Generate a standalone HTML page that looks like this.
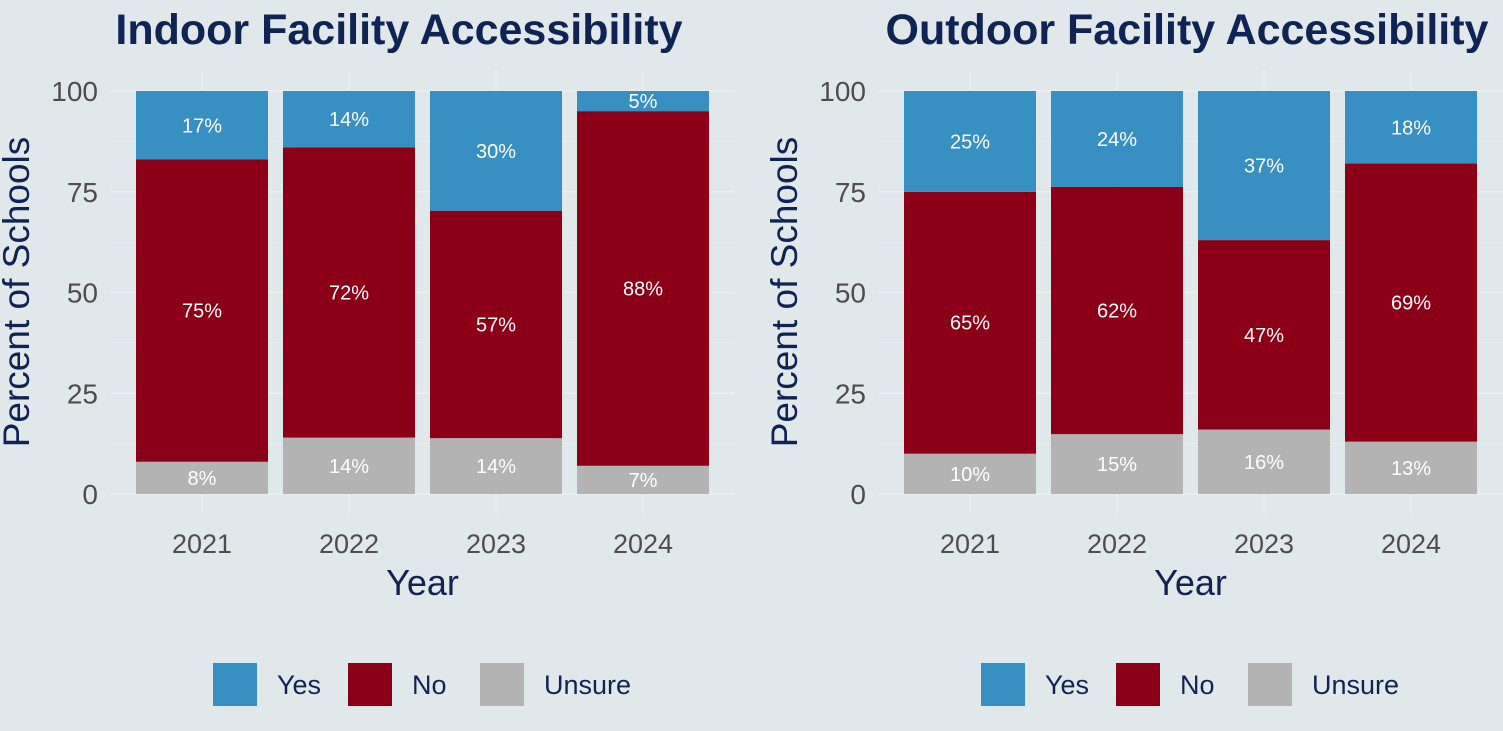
<!DOCTYPE html>
<html><head><meta charset="utf-8"><style>
html,body{margin:0;padding:0;background:#e1e8eb;}
svg{display:block;font-family:"Liberation Sans",Arial,sans-serif;}
</style></head><body>
<svg id="chart" width="1503" height="731" viewBox="0 0 1503 731"></svg>
<script>
const years = ["2021","2022","2023","2024"];
const indoorYes = [17,14,30,5];
const indoorNo = [75,72,57,88];
const indoorUnsure = [8,14,14,7];
const outdoorYes = [25,24,37,18];
const outdoorNo = [65,62,47,69];
const outdoorUnsure = [10,15,16,13];
const yTicks = [0,25,50,75,100];
const titles = ["Indoor Facility Accessibility","Outdoor Facility Accessibility"];

const NS="http://www.w3.org/2000/svg";
const svg=document.getElementById('chart');
function mk(tag,attrs,parent){const e=document.createElementNS(NS,tag);for(const k in attrs)e.setAttribute(k,attrs[k]);(parent||svg).appendChild(e);return e;}

const panels=[
 {x0:136,title:titles[0],tx:399,yes:indoorYes,no:indoorNo,un:indoorUnsure,axisX:98,ytitleX:29,legX:213,name:'indoor'},
 {x0:904,title:titles[1],tx:1187,yes:outdoorYes,no:outdoorNo,un:outdoorUnsure,axisX:866,ytitleX:797,legX:981,name:'outdoor'}
];
const y0=494,y100=91;
function yS(v){return y0-(y0-y100)*v/100;}
const step=147,bw=132;

panels.forEach(p=>{
  const g=mk('g',{});
  
  
  const t=mk('text',{x:p.tx,y:44,'text-anchor':'middle','font-size':43,'font-weight':'bold',fill:'#0f2452'},g);
  t.textContent=p.title;
  
  
  const left=p.x0-26,right=p.x0+3*step+bw+26;
  for(let v=0;v<=100;v+=12.5){
    const l=mk('line',{x1:left,x2:right,y1:yS(v),y2:yS(v),stroke:'#ebf0f1','stroke-width':v%25===0?1.6:0.8},g);
    
    
  }
  years.forEach((yr,i)=>{
    const cx=p.x0+i*step+bw/2;
    const vl=mk('line',{x1:cx,x2:cx,y1:70,y2:515,stroke:'#ebf0f1','stroke-width':1.6},g);
    
    
  });
  yTicks.forEach(v=>{
    const tt=mk('text',{x:p.axisX,y:yS(v)+10,'text-anchor':'end','font-size':28,fill:'#4d4d4d'},g);
    tt.textContent=v;
    
    
  });
  years.forEach((yr,i)=>{
    const bx=p.x0+i*step,cx=bx+bw/2;
    const segs=[[p.un[i],'#b3b3b3'],[p.no[i],'#8b0016'],[p.yes[i],'#388fc2']];
    let base=0;
    const total=p.un[i]+p.no[i]+p.yes[i];
    segs.forEach((s,k)=>{
      const v=s[0]*100/total;
      const yt=yS(base+v),yb=yS(base);
      const r=mk('rect',{x:bx,y:yt,width:bw,height:yb-yt,fill:s[1]},g);
      
      
      const lb=mk('text',{x:cx,y:(yt+yb)/2+7,'text-anchor':'middle','font-size':20,fill:'#ffffff'},g);
      lb.textContent=s[0]+'%';
      
      
      base+=v;
    });
    const xl=mk('text',{x:cx,y:553,'text-anchor':'middle','font-size':27,fill:'#4d4d4d'},g);
    xl.textContent=yr;
    
    
  });
  const xt=mk('text',{x:p.x0+(3*step+bw)/2,y:595,'text-anchor':'middle','font-size':36,fill:'#0f2452'},g);
  xt.textContent='Year';
  
  
  const yt=mk('text',{x:p.ytitleX,y:292,'text-anchor':'middle','font-size':37,fill:'#0f2452',transform:'rotate(-90 '+p.ytitleX+' 292)'},g);
  yt.textContent='Percent of Schools';
  
  
  const leg=[['Yes','#388fc2',0],['No','#8b0016',135],['Unsure','#b3b3b3',267]];
  leg.forEach(l=>{
    const r=mk('rect',{x:p.legX+l[2],y:663,width:44,height:43,fill:l[1]},g);
    
    
    const lt=mk('text',{x:p.legX+l[2]+64,y:694,'font-size':27,fill:'#0f2452'},g);
    lt.textContent=l[0];
    
    
  });
});
</script>
</body></html>
